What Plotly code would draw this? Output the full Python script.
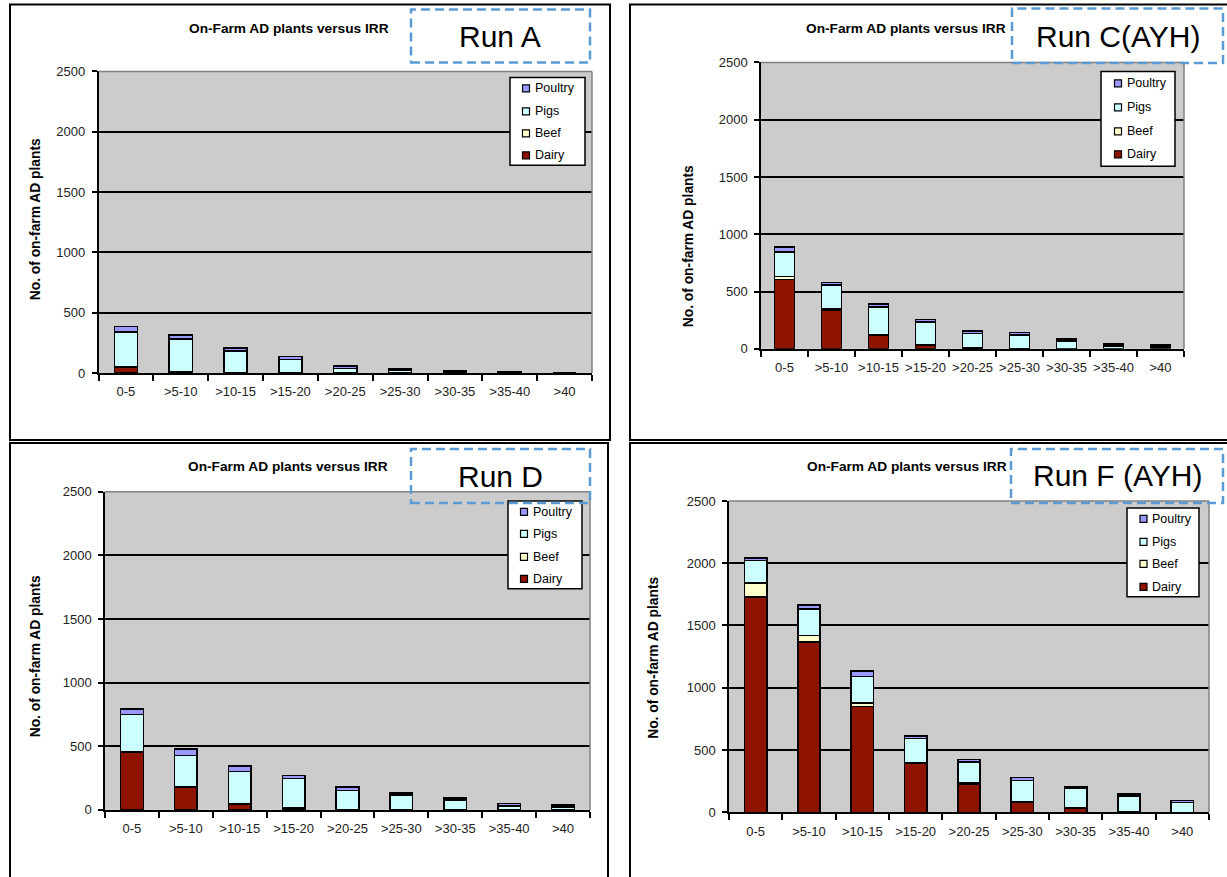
import plotly.graph_objects as go

W, H = 1227, 877

categories = ["0-5", ">5-10", ">10-15", ">15-20", ">20-25", ">25-30", ">30-35", ">35-40", ">40"]
series_names = ["Dairy", "Beef", "Pigs", "Poultry"]
series_colors = ["#8E1400", "#FFFFCC", "#CCFFFF", "#9999FF"]
y_ticks = [0, 500, 1000, 1500, 2000, 2500]

# Run A
dairy_A = [50, 10, 3, 2, 1, 0, 0, 0, 0]
beef_A = [5, 2, 1, 1, 0, 0, 0, 0, 0]
pigs_A = [285, 272, 180, 108, 37, 20, 8, 6, 0]
poultry_A = [47, 31, 24, 27, 20, 15, 12, 8, 0]

# Run C(AYH)
dairy_C = [605, 335, 118, 30, 3, 2, 1, 0, 0]
beef_C = [25, 12, 6, 6, 2, 1, 1, 0, 0]
pigs_C = [215, 208, 243, 200, 130, 118, 65, 26, 16]
poultry_C = [45, 23, 23, 20, 22, 21, 20, 18, 19]

# Run D
dairy_D = [455, 178, 45, 12, 3, 1, 0, 0, 0]
beef_D = [5, 5, 5, 4, 1, 0, 0, 0, 0]
pigs_D = [290, 246, 253, 232, 150, 115, 78, 32, 24]
poultry_D = [42, 50, 42, 24, 24, 15, 16, 18, 13]

# Run F (AYH)
dairy_F = [1727, 1366, 850, 390, 225, 80, 33, 0, 0]
beef_F = [113, 54, 27, 11, 10, 5, 3, 1, 0]
pigs_F = [182, 214, 214, 190, 169, 169, 157, 130, 80]
poultry_F = [18, 32, 45, 21, 18, 24, 10, 16, 14]

chart_title = "On-Farm AD plants versus IRR"
y_title = "No. of on-farm AD plants"
run_labels = ["Run A", "Run C(AYH)", "Run D", "Run F (AYH)"]

runs = [
    [dairy_A, beef_A, pigs_A, poultry_A],
    [dairy_C, beef_C, pigs_C, poultry_C],
    [dairy_D, beef_D, pigs_D, poultry_D],
    [dairy_F, beef_F, pigs_F, poultry_F],
]


def px(x):
    return x / W


def py(y):
    # vertical pixel position on the page -> paper fraction
    ys = (y - 6.5) / 0.984
    return 1 - ys / H


FONT = "Liberation Sans, Arial, sans-serif"

# layout geometry (pixels) per panel
panels = [
    dict(plot=(98.5, 592, 71, 373), frame=(10, 610, 4, 440), title=(289, 28),
         ytitle=(35, 219), runbox=(411, 590, 9, 62), runtext=(500, 36),
         legbox=(510, 585, 77, 165), legy=[155, 133, 111, 88], legsq=526, legtx=533),
    dict(plot=(761, 1184, 62, 348.7), frame=(630, 1240, 4, 440), title=(905.5, 28),
         ytitle=(688, 246), runbox=(1012, 1223, 8, 62.5), runtext=(1118, 36),
         legbox=(1101, 1175, 71, 166), legy=[154, 131, 107, 83], legsq=1118, legtx=1125),
    dict(plot=(105, 590, 491.7, 810.3), frame=(10, 608, 443, 900), title=(288, 467),
         ytitle=(35.5, 657), runbox=(411, 590, 449, 503), runtext=(500.6, 476.7),
         legbox=(508, 582, 501, 589), legy=[579, 557, 534, 512], legsq=524, legtx=531),
    dict(plot=(729, 1209, 501, 812.7), frame=(630, 1240, 443, 900), title=(906.5, 467),
         ytitle=(654, 658), runbox=(1011, 1223, 449, 503), runtext=(1117, 476),
         legbox=(1127, 1199, 508, 597), legy=[587, 564, 542, 519], legsq=1143.5, legtx=1150),
]

fig = go.Figure()
shapes = []
annotations = []
layout_axes = {}

for i, (run, p) in enumerate(zip(runs, panels)):
    n = "" if i == 0 else str(i + 1)
    xa, ya = "x" + n, "y" + n
    for name, color, vals in zip(series_names, series_colors, run):
        fig.add_trace(go.Bar(
            x=categories, y=vals, name=name, xaxis=xa, yaxis=ya,
            marker=dict(color=color, line=dict(color="black", width=1.5)),
            showlegend=False,
        ))
    x0, x1, y0, y1 = p["plot"]
    layout_axes["xaxis" + n] = dict(
        domain=[px(x0), px(x1)], anchor=ya, type="category",
        categoryorder="array", categoryarray=categories,
        tickson="boundaries", ticks="outside", ticklen=6, tickwidth=1.5, tickcolor="black",
        showline=True, linecolor="black", linewidth=1.5, showgrid=False,
        tickangle=0,
        tickfont=dict(family=FONT, size=13, color="#222"), ticklabelstandoff=6,
        fixedrange=True,
    )
    layout_axes["yaxis" + n] = dict(
        domain=[py(y1), py(y0)], anchor=xa, range=[0, 2500],
        tickmode="array", tickvals=y_ticks, ticktext=[str(t) for t in y_ticks],
        ticks="outside", ticklen=5, tickwidth=1.5, tickcolor="black",
        showline=True, linecolor="black", linewidth=1.5,
        showgrid=True, gridcolor="black", gridwidth=1.5, zeroline=False,
        tickfont=dict(family=FONT, size=13, color="#222"), ticklabelstandoff=4,
        fixedrange=True,
    )
    # plot area gray border (top & right)
    shapes.append(dict(type="line", xref=xa + " domain", yref=ya + " domain",
                       x0=0, x1=1, y0=1, y1=1, line=dict(color="#808080", width=1.5)))
    shapes.append(dict(type="line", xref=xa + " domain", yref=ya + " domain",
                       x0=1, x1=1, y0=0, y1=1, line=dict(color="#808080", width=1.5)))
    # panel frame
    fx0, fx1, fy0, fy1 = p["frame"]
    shapes.append(dict(type="rect", xref="paper", yref="paper",
                       x0=px(fx0), x1=px(fx1), y0=py(fy1), y1=py(fy0),
                       line=dict(color="black", width=2)))
    # chart title
    annotations.append(dict(text="<b>" + chart_title + "</b>", xref="paper", yref="paper",
                            x=px(p["title"][0]), y=py(p["title"][1]), showarrow=False,
                            xanchor="center", yanchor="middle",
                            font=dict(family=FONT, size=13.7, color="black")))
    # y axis title
    annotations.append(dict(text="<b>" + y_title + "</b>", xref="paper", yref="paper",
                            x=px(p["ytitle"][0]), y=py(p["ytitle"][1]), showarrow=False,
                            textangle=-90, xanchor="center", yanchor="middle",
                            font=dict(family=FONT, size=13.8, color="black")))
    # legend box
    lx0, lx1, ly0, ly1 = p["legbox"]
    shapes.append(dict(type="rect", xref="paper", yref="paper",
                       x0=px(lx0), x1=px(lx1), y0=py(ly1), y1=py(ly0),
                       fillcolor="white", line=dict(color="black", width=1.5)))
    for name, color, yy in zip(series_names, series_colors, p["legy"]):
        s = 3.5
        shapes.append(dict(type="rect", xref="paper", yref="paper",
                           x0=px(p["legsq"] - s), x1=px(p["legsq"] + s),
                           y0=py(yy + s), y1=py(yy - s),
                           fillcolor=color, line=dict(color="black", width=1.2)))
        annotations.append(dict(text=name, xref="paper", yref="paper",
                                x=px(p["legtx"]), y=py(yy), showarrow=False,
                                xanchor="left", yanchor="middle",
                                font=dict(family=FONT, size=12.5, color="black")))
    # dashed run box
    rx0, rx1, ry0, ry1 = p["runbox"]
    shapes.append(dict(type="rect", xref="paper", yref="paper",
                       x0=px(rx0), x1=px(rx1), y0=py(ry1), y1=py(ry0),
                       line=dict(color="#5B9BD5", width=2.5, dash="9px,5px")))
    annotations.append(dict(text=run_labels[i], xref="paper", yref="paper",
                            x=px(p["runtext"][0]), y=py(p["runtext"][1]), showarrow=False,
                            xanchor="center", yanchor="middle",
                            font=dict(family=FONT, size=30, color="black")))

fig.update_layout(
    width=W, height=H, margin=dict(l=0, r=0, t=0, b=0),
    paper_bgcolor="white", plot_bgcolor="#CCCCCC",
    barmode="stack", bargap=0.58,
    showlegend=False,
    shapes=shapes, annotations=annotations,
    **layout_axes,
)

fig.write_html(
    "out.html",
    config={"displayModeBar": False},
    post_script=(
        "document.documentElement.style.margin='0';"
        "document.body.style.margin='0';document.body.style.padding='0';"
        "document.body.style.overflow='hidden';"
        "var gd=document.getElementById('{plot_id}');"
        "gd.style.position='absolute';gd.style.left='0px';gd.style.top='0px';"
    ),
)
